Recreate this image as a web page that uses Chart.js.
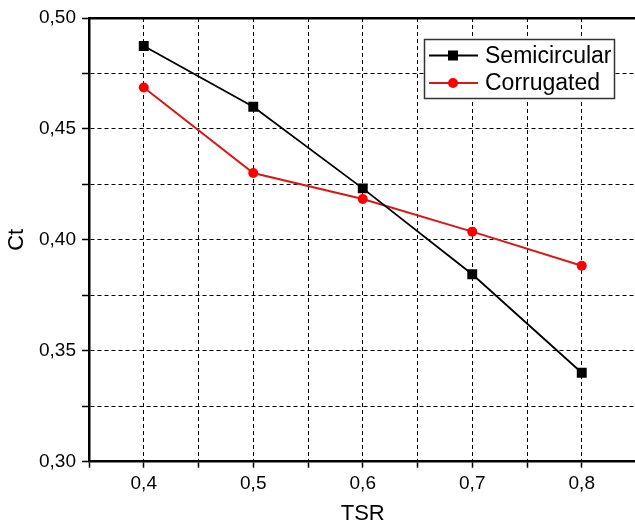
<!DOCTYPE html>
<html>
<head>
<meta charset="utf-8">
<script src="https://cdn.jsdelivr.net/npm/chart.js@4"></script>
<style>
  html, body { margin: 0; padding: 0; background: #fff; overflow: hidden; }
</style>
</head>
<body>
<canvas id="ctChart" width="645" height="528"></canvas>
<script>
// dados
var tsr = [0.4, 0.5, 0.6, 0.7, 0.8];
var semicircular = [0.4874, 0.4600, 0.4232, 0.3845, 0.3401];
var corrugated = [0.4687, 0.4301, 0.4184, 0.4037, 0.3883];
var seriesNames = ["Semicircular", "Corrugated"];

var FONT = "'Liberation Sans', Arial, sans-serif";

function toPoints(xs, ys) {
  return xs.map(function (x, i) {
    return { x: x, y: ys[i] };
  });
}

function isMultiple(v, step) {
  var q = v / step;
  return Math.abs(q - Math.round(q)) < 1e-6;
}

// legenda dentro da área do gráfico
var boxLegend = {
  id: "boxLegend",
  afterDraw: function (chart) {
    var ctx = chart.ctx;
    var bx = 424.5, by = 39.5, bw = 190, bh = 59;
    ctx.save();
    ctx.fillStyle = "#fff";
    ctx.fillRect(bx, by, bw, bh);
    ctx.strokeStyle = "#333";
    ctx.lineWidth = 1.5;
    ctx.strokeRect(bx, by, bw, bh);
    chart.data.datasets.forEach(function (ds, i) {
      var y = 55.5 + i * 27.5;
      ctx.strokeStyle = ds.borderColor;
      ctx.lineWidth = ds.borderWidth;
      ctx.beginPath();
      ctx.moveTo(429, y);
      ctx.lineTo(478, y);
      ctx.stroke();
      ctx.fillStyle = ds.pointBackgroundColor;
      if (ds.pointStyle === "rect") {
        ctx.fillRect(448, y - 5, 10, 10);
      } else {
        ctx.beginPath();
        ctx.arc(453, y, 5, 0, Math.PI * 2);
        ctx.fill();
      }
      ctx.fillStyle = "#000";
      ctx.font = "23px " + FONT;
      ctx.textBaseline = "middle";
      ctx.fillText(ds.label, 485, y + 1);
    });
    ctx.restore();
  },
};

var ctx = document.getElementById("ctChart").getContext("2d");
var ctChart = new Chart(ctx, {
  type: "line",
  data: {
    datasets: [
      {
        label: seriesNames[0],
        data: toPoints(tsr, semicircular),
        borderColor: "#000",
        backgroundColor: "#000",
        pointBackgroundColor: "#000",
        pointBorderColor: "#000",
        borderWidth: 1.8,
        pointStyle: "rect",
        pointRadius: 7,
        pointBorderWidth: 0,
        tension: 0,
      },
      {
        label: seriesNames[1],
        data: toPoints(tsr, corrugated),
        borderColor: "#d81818",
        backgroundColor: "#f00",
        pointBackgroundColor: "#f00",
        pointBorderColor: "#f00",
        borderWidth: 2,
        pointStyle: "circle",
        pointRadius: 5,
        pointBorderWidth: 0,
        tension: 0,
      },
    ],
  },
  options: {
    responsive: false,
    animation: false,
    layout: { padding: { top: 18, right: 8.5, left: 0, bottom: 0 } },
    plugins: {
      legend: { display: false },
      tooltip: { enabled: false },
    },
    scales: {
      x: {
        type: "linear",
        position: "bottom",
        min: 0.35,
        max: 0.85,
        afterFit: function (scale) {
          scale.height = 66.3;
        },
        ticks: {
          stepSize: 0.05,
          autoSkip: false,
          maxRotation: 0,
          padding: 5,
          color: "#000",
          font: { family: FONT, size: 19 },
          callback: function (v) {
            return isMultiple(v, 0.1) ? v.toFixed(1).replace(".", ",") : "";
          },
        },
        grid: {
          color: "#000",
          lineWidth: 1,
          tickLength: 6,
          tickColor: "#000",
          tickWidth: 1.5,
        },
        border: { display: true, color: "#000", width: 2.5, dash: [4, 3] },
        title: {
          display: true,
          text: "TSR",
          color: "#000",
          font: { family: FONT, size: 22 },
          padding: { top: 0, bottom: 1 },
        },
      },
      xTop: {
        type: "linear",
        position: "top",
        min: 0.35,
        max: 0.85,
        afterFit: function (scale) {
          scale.height = 0;
        },
        ticks: { display: false },
        grid: { drawOnChartArea: false, drawTicks: false },
        border: { display: true, color: "#000", width: 2.5 },
      },
      y: {
        type: "linear",
        min: 0.3,
        max: 0.5,
        afterFit: function (scale) {
          scale.width = 89;
        },
        ticks: {
          stepSize: 0.025,
          autoSkip: false,
          padding: 6,
          color: "#000",
          font: { family: FONT, size: 19 },
          callback: function (v) {
            return isMultiple(v, 0.05) ? v.toFixed(2).replace(".", ",") : "";
          },
        },
        grid: {
          color: "#000",
          lineWidth: 1,
          tickLength: 7,
          tickColor: "#000",
          tickWidth: 1.5,
        },
        border: { display: true, color: "#000", width: 2.5, dash: [4, 3] },
        title: {
          display: true,
          text: "Ct",
          color: "#000",
          font: { family: FONT, size: 22 },
          padding: { top: 4, bottom: 0 },
        },
      },
    },
  },
  plugins: [boxLegend],
});
</script>
</body>
</html>
